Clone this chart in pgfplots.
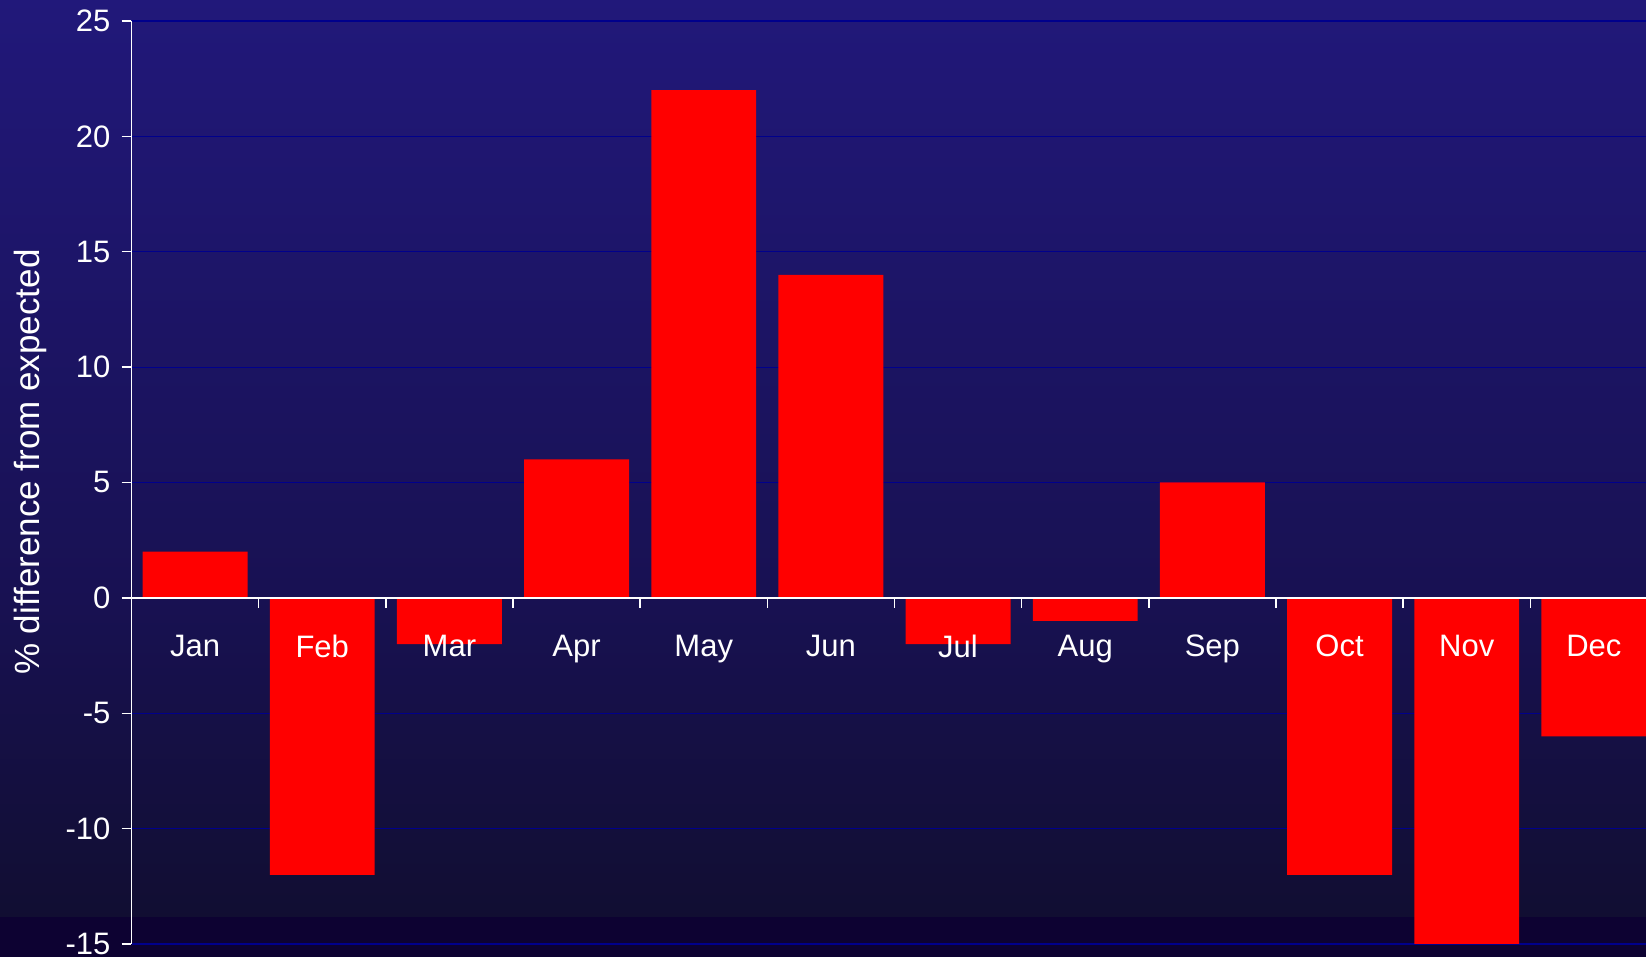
\documentclass[border=0pt]{standalone}
\usepackage{pgfplots}
\pgfplotsset{compat=1.18}
\usepackage{fontspec}
\setmainfont{Liberation Sans}
\definecolor{bgtop}{RGB}{33,24,122}
\definecolor{bgmid}{RGB}{24,17,82}
\definecolor{bglow}{RGB}{17,14,50}
\definecolor{bgband}{RGB}{13,2,50}
\definecolor{gridblue}{RGB}{0,0,140}
\definecolor{barred}{RGB}{255,0,0}
\pgfplotstableread{
x y
0 2
1 -12
2 -2
3 6
4 22
5 14
6 -2
7 -1
8 5
9 -12
10 -15
11 -6
}\datatable
\begin{document}
\begin{tikzpicture}
\useasboundingbox (0,0) rectangle (823pt,478.5pt);
\shade[top color=bgtop, bottom color=bgmid] (0,178.5pt) rectangle (823pt,478.5pt);
\shade[top color=bgmid, bottom color=bglow] (0,20pt) rectangle (823pt,178.6pt);
\fill[bgband] (0,0) rectangle (823pt,20.1pt);
\pgfplotsset{
  common/.style={
    scale only axis,
    width=757.25pt, height=461.5pt,
    at={(65.75pt,6.5pt)}, anchor=south west,
    xmin=-0.5, xmax=11.41,
    ymin=-15, ymax=25,
  }
}
% first axis: grid and bars
\begin{axis}[common,
  axis line style={draw=none},
  xtick=\empty,
  ytick={-15,-10,...,25},
  yticklabels={},
  major tick length=0pt,
  ymajorgrids,
  grid style={gridblue, line width=0.6pt},
]
\addplot[ybar, bar width=0.825, fill=barred, draw=none, bar shift=0pt] table[x=x,y=y] {\datatable};
\end{axis}
% second axis: axis lines, ticks, labels
\begin{axis}[common,
  axis x line*=middle,
  axis y line*=left,
  axis line style={white, line width=0.7pt},
  tick style={white, line width=0.7pt},
  tick align=outside,
  major tick length=5pt,
  ytick={-15,-10,...,25},
  xtick={0.5,1.5,...,10.5},
  xticklabels={},
  extra x ticks={0,1,...,11},
  extra x tick labels={Jan,Feb,Mar,Apr,May,Jun,Jul,Aug,Sep,Oct,Nov,Dec},
  extra x tick style={major tick length=0pt, tick style={draw=none},
     xticklabel style={yshift=-15pt}},
  /pgf/number format/assume math mode=true,
  every tick label/.append style={font=\fontsize{15.5}{18}\selectfont, text=white},
  yticklabel style={xshift=-2pt},
  ylabel={\% difference from expected},
  every axis y label/.style={at={(axis description cs:-0.0664,0.522)}, rotate=90, anchor=center,
     font=\fontsize{17.5}{20}\selectfont, text=white},
]
\end{axis}
\end{tikzpicture}
\end{document}
